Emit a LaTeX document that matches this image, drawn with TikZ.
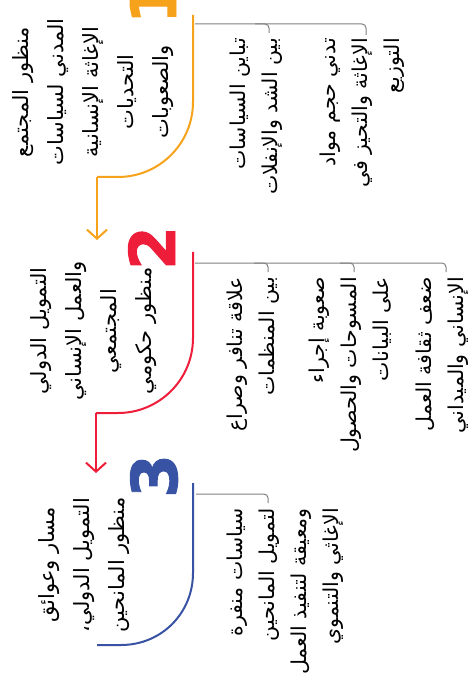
\documentclass[tikz,border=0pt]{standalone}
\usepackage{fontspec}
\TeXXeTstate=1
\newfontfamily\arabicfont[Script=Arabic]{DejaVu Sans}
\newfontfamily\numfont{DejaVu Sans}[BoldFeatures={FakeBold=1.5}]
\usetikzlibrary{arrows.meta}
\definecolor{cOrange}{HTML}{F7A21B}
\definecolor{cRed}{HTML}{EE1D3A}
\definecolor{cBlue}{HTML}{3953A4}
\definecolor{cGray}{HTML}{808080}
\newcommand{\arl}[1]{\beginR #1\endR}
\begin{document}
\begin{tikzpicture}[x=1pt,y=-1pt,
  titletext/.style={rotate=90, align=center, inner sep=0pt,
    font=\arabicfont\fontsize{21}{35}\selectfont},
  itemtext/.style={rotate=90, align=right, anchor=north east, inner sep=0pt,
    font=\arabicfont\fontsize{20.5}{32}\selectfont},
  numtext/.style={rotate=90, anchor=base, inner sep=0pt,
    font=\numfont\bfseries\fontsize{63}{63}\selectfont},
  flow/.style={line width=2pt},
  bracket/.style={draw=cGray, line width=1pt, rounded corners=4pt},
  tip/.style={-{Straight Barb[length=9pt,width=20pt]}}
]
\useasboundingbox (0,0) rectangle (470,684);
\clip (0,0) rectangle (470,684);

% ---------- group 1 ----------
\node[numtext, text=cOrange] (n1) at (176,2) {1};
\coordinate (a1) at (193,15);
\coordinate (b1) at (97,177);
\coordinate (c1) at (97,240);
\draw[flow, draw=cOrange] (a1) -- (193,102) .. controls (193,143.4) and (159.4,177) .. (118,177) -- (b1);
\draw[flow, draw=cOrange, tip] (b1) -- (c1);
\node[titletext] (t1) at (93,92) {\arl{منظور المجتمع}\\\arl{المدني لسياسات}\\\arl{الإغاثة الإنسانية}\\\arl{التحديات}\\\arl{والصعوبات}};
\node[itemtext] (i11) at (230,38) {\arl{تباين السياسات}\\\arl{بين الشد والإنفلات}};
\node[itemtext] (i12) at (320,38) {\arl{تدني حجم مواد}\\\arl{الإغاثة والتحيز في}\\\arl{التوزيع}};
\coordinate (g1) at (195,24);
\draw[bracket] (g1) -| (366,35);
\draw[bracket] (255,24) -| (269,33);

% ---------- group 2 ----------
\node[numtext, text=cRed] (n2) at (175,248) {2};
\coordinate (a2) at (193,252);
\coordinate (b2) at (96,413);
\coordinate (c2) at (96,473);
\draw[flow, draw=cRed] (a2) -- (193,338) .. controls (193,379.4) and (159.4,413) .. (118,413) -- (b2);
\draw[flow, draw=cRed, tip] (b2) -- (c2);
\node[titletext] (t2) at (94,331) {\arl{التمويل الدولي}\\\arl{والعمل الإنساني}\\\arl{المجتمعي}\\\arl{منظور حكومي}};
\node[itemtext] (i21) at (227,277) {\arl{علاقة تنافر وصراع}\\\arl{بين المنظمات}};
\node[itemtext] (i22) at (309,277) {\arl{صعوبة إجراء}\\\arl{المسوحات والحصول}\\\arl{على البيانات}};
\node[itemtext] (i23) at (416,277) {\arl{ضعف ثقافة العمل}\\\arl{الإنساني والميداني}};
\coordinate (g2) at (195,263);
\draw[bracket] (g2) -| (446,272);
\draw[bracket] (254,263) -| (268,272);
\draw[bracket] (340,263) -| (354,272);

% ---------- group 3 ----------
\node[numtext, text=cBlue] (n3) at (177,476) {3};
\coordinate (a3) at (193,483);
\coordinate (b3) at (97,645);
\draw[flow, draw=cBlue] (a3) -- (193,573) .. controls (193,612.8) and (161.8,645) .. (121,645) -- (b3);
\node[titletext] (t3) at (84,565) {\arl{مسار وعوائق}\\\arl{التمويل الدولي،}\\\arl{منظور المانحين}};
\node[itemtext] (i31) at (227,508) {\arl{سياسات منفرة}\\\arl{لتمويل المانحين}\\\arl{ومعيقة لتنفيذ العمل}\\\arl{الإغاثي والتنموي}};
\coordinate (g3) at (196,494);
\draw[bracket] (g3) -| (268,503);
\end{tikzpicture}
\end{document}
